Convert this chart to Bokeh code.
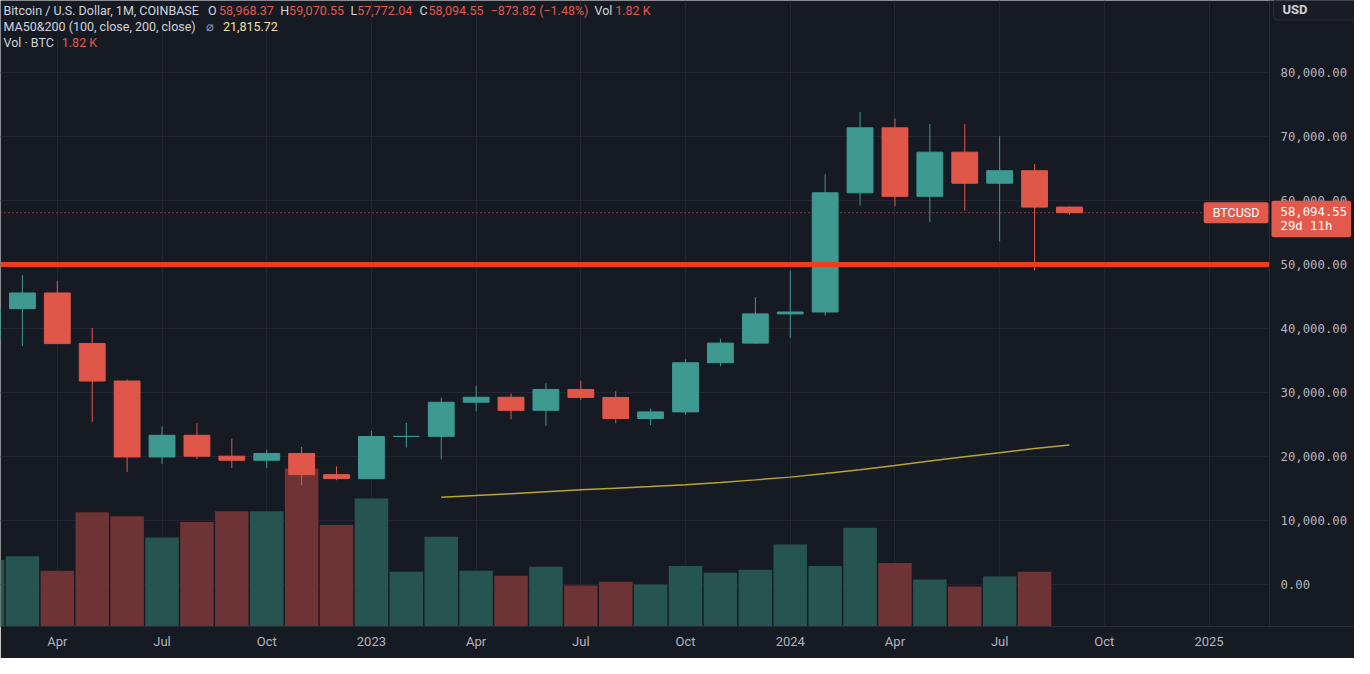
from bokeh.plotting import figure
from bokeh.models import (Range1d, FixedTicker, NumeralTickFormatter, Label, Span,
                          BoxAnnotation, ColumnDataSource)
from bokeh.embed import file_html
from bokeh.resources import INLINE

# ---------------- data ----------------
months = ["2022-02", "2022-03", "2022-04", "2022-05", "2022-06", "2022-07", "2022-08",
          "2022-09", "2022-10", "2022-11", "2022-12", "2023-01", "2023-02", "2023-03",
          "2023-04", "2023-05", "2023-06", "2023-07", "2023-08", "2023-09", "2023-10",
          "2023-11", "2023-12", "2024-01", "2024-02", "2024-03", "2024-04", "2024-05",
          "2024-06", "2024-07", "2024-08", "2024-09"]
opens = [38466, 43100, 45550, 37640, 31790, 19930, 23320, 20050, 19420, 20480, 17170,
         16540, 23130, 23150, 28480, 29260, 27220, 30480, 29230, 25940, 26970, 34650,
         37720, 42280, 42580, 61200, 71350, 60650, 67550, 62700, 64650, 58968.37]
highs = [45850, 48350, 47450, 40100, 32050, 24700, 25200, 22780, 21050, 21500, 18450,
         24000, 25250, 29180, 31050, 29850, 31430, 31850, 30200, 27480, 35200, 38400,
         44900, 49050, 64100, 73850, 72800, 71950, 71950, 70050, 65700, 59070.55]
lows = [34322, 37250, 37600, 25400, 17600, 18850, 19600, 18200, 18200, 15500, 16300,
        16500, 21400, 19580, 27050, 25820, 24800, 28880, 25200, 24900, 26560, 34100,
        37600, 38550, 42000, 59200, 59100, 56600, 58450, 53600, 49100, 57772.04]
closes = [43100, 45550, 37640, 31790, 19930, 23320, 20050, 19420, 20480, 17170, 16540,
          23130, 23150, 28480, 29260, 27220, 30480, 29230, 25940, 26970, 34650, 37720,
          42280, 42580, 61200, 71350, 60650, 67550, 62700, 64650, 58968.37, 58094.55]
volumes = [252000, 266000, 211000, 433000, 418000, 337000, 396000, 437000, 437000,
           599000, 385000, 485000, 207000, 340000, 211000, 192000, 226000, 155000,
           170000, 159000, 229000, 204000, 215000, 311000, 229000, 374000, 241000,
           178000, 152000, 189000, 207000, 1820]

ma_months = ["2023-03", "2023-04", "2023-05", "2023-06", "2023-07", "2023-08", "2023-09",
             "2023-10", "2023-11", "2023-12", "2024-01", "2024-02", "2024-03", "2024-04",
             "2024-05", "2024-06", "2024-07", "2024-08", "2024-09"]
ma_values = [13620, 13900, 14180, 14480, 14800, 15050, 15300, 15600, 15950, 16350,
             16780, 17350, 17950, 18600, 19300, 19950, 20600, 21250, 21815.72]

tick_months = ["2022-04", "2022-07", "2022-10", "2023-01", "2023-04", "2023-07",
               "2023-10", "2024-01", "2024-04", "2024-07", "2024-10", "2025-01"]
tick_labels = ["Apr", "Jul", "Oct", "2023", "Apr", "Jul", "Oct", "2024", "Apr", "Jul",
               "Oct", "2025"]
price_ticks = [0, 10000, 20000, 30000, 40000, 50000, 60000, 70000, 80000]
support_level = 50000
time_left = "29d 11h"
currency = "USD"
symbol = "BTCUSD"


def month_index(m):
    y, mo = m.split("-")
    return (int(y) - 2022) * 12 + int(mo) - 1


# ---------------- style ----------------
BG = "#161a23"
GRID = "#232631"
SEP = "#2a2e39"
UP = "#3e9a90"
DOWN = "#e0574a"
VUP = "#265450"
VDOWN = "#6e3335"
TXT = "#d1d4dc"
AXT = "#b2b5be"
REDTXT = "#e5584b"
YEL = "#f2e3a0"
TAG = "#e25a4c"
FONT = "Roboto"
MONO = "DejaVu Sans Mono"
MONO_SIZE = "12.3px"

X_START, X_END = 1.372, 40.167      # visible time window (month index)
SCALE_EDGE = 37.731                 # where the price scale column begins

xs = [month_index(m) for m in months]
is_up = [c >= o for o, c in zip(opens, closes)]
src = ColumnDataSource(dict(
    x=xs, open=opens, high=highs, low=lows, close=closes,
    top=[max(o, c) for o, c in zip(opens, closes)],
    bottom=[min(o, c) for o, c in zip(opens, closes)],
    color=[UP if u else DOWN for u in is_up],
    vcolor=[VUP if u else VDOWN for u in is_up],
    volume=volumes,
))

p = figure(width=1354, height=658, output_backend="svg", toolbar_location=None,
           x_range=Range1d(X_START, X_END), y_range=Range1d(-6558, 91246),
           y_axis_location="right",
           min_border_left=0, min_border_top=0, min_border_right=0, min_border_bottom=32,
           background_fill_color=BG, border_fill_color=BG, outline_line_color=None)
p.extra_y_ranges = {"vol": Range1d(0, 2371700)}

tick_x = [month_index(m) for m in tick_months]

p.xgrid.ticker = FixedTicker(ticks=tick_x)
p.ygrid.ticker = FixedTicker(ticks=price_ticks)
p.grid.grid_line_color = GRID
p.grid.grid_line_width = 1

ya = p.yaxis[0]
ya.ticker = FixedTicker(ticks=price_ticks)
ya.formatter = NumeralTickFormatter(format="0,0.00")
ya.major_label_text_font = MONO
ya.major_label_text_font_size = MONO_SIZE
ya.major_label_text_color = AXT
ya.axis_line_color = None
ya.major_tick_line_color = None
ya.minor_tick_line_color = None
ya.major_tick_out = 0
ya.minor_tick_out = 0
ya.major_label_standoff = -74

xa = p.xaxis[0]
xa.ticker = FixedTicker(ticks=tick_x)
xa.major_label_overrides = {t: l for t, l in zip(tick_x, tick_labels)}
xa.major_label_text_font = FONT
xa.major_label_text_font_size = "13px"
xa.major_label_text_color = AXT
xa.axis_line_color = SEP
xa.major_tick_line_color = None
xa.minor_tick_line_color = None
xa.major_tick_out = 0
xa.minor_tick_out = 0
xa.major_label_standoff = 7

# current-price dotted line (beneath candles)
p.add_layout(Span(location=closes[-1], dimension="width", line_color=DOWN,
                  line_dash="1 3", line_width=1, level="underlay"))

# volume
p.vbar(x="x", width=0.96, top="volume", bottom=0, y_range_name="vol",
       fill_color="vcolor", line_color=None, source=src)
# candles
p.segment(x0="x", y0="low", x1="x", y1="high", line_color="color", line_width=1, source=src)
p.vbar(x="x", width=0.74, top="top", bottom="bottom", fill_color="color",
       line_color="color", line_width=1, source=src)
# moving average
p.line([month_index(m) for m in ma_months], ma_values, line_color="#b9a533", line_width=1.5)

# support line
p.add_layout(Span(location=support_level, dimension="width", line_color="#f23b1d",
                  line_width=5, level="glyph"))

# price-scale column background + separator
p.add_layout(BoxAnnotation(left=SCALE_EDGE, fill_color=BG, fill_alpha=1.0,
                           line_color=None, level="glyph"))
p.add_layout(Span(location=SCALE_EDGE, dimension="height", line_color=SEP,
                  line_width=1, level="glyph"))

# ---------------- header legend ----------------
o, h, l, c = opens[-1], highs[-1], lows[-1], closes[-1]
chg = c - o
pct = chg / o * 100


def fmt(v):
    return f"{v:,.2f}".replace("-", "\u2212")


vol_txt = f"{volumes[-1] / 1000:.2f} K"

line1 = [("Bitcoin / U.S. Dollar, 1M, COINBASE", 3, TXT), ("O", 207.5, TXT),
         (fmt(o), 218.4, REDTXT), ("H", 279.7, TXT), (fmt(h), 288.6, REDTXT),
         ("L", 349.9, TXT), (fmt(l), 356.8, REDTXT), ("C", 419, TXT), (fmt(c), 428, REDTXT),
         (f"{fmt(chg)} ({fmt(pct)}%)", 490, REDTXT), ("Vol", 594, TXT), (vol_txt, 614.7, REDTXT)]
line2 = [("MA50&200 (100, close, 200, close)", 3, TXT), ("\u2300", 205.6, "#9598a1"),
         (fmt(ma_values[-1]), 222.4, YEL)]
line3 = [("Vol \u00b7 BTC", 3, TXT), (vol_txt, 61.3, REDTXT)]

for items, ys in ((line1, 616), (line2, 600), (line3, 584)):
    for t, xpos, col in items:
        p.add_layout(Label(x=xpos, y=ys, x_units="screen", y_units="screen", text=t,
                           text_font=FONT, text_font_size="12.5px", text_color=col,
                           text_baseline="middle", text_align="left"))

# symbol tag at the end of the price line
p.add_layout(Label(x=SCALE_EDGE, x_offset=-1, y=c, x_units="data", y_units="data",
                   text=symbol, text_font=FONT, text_font_size="12.5px",
                   text_color="#ffffff", text_baseline="middle", text_align="right",
                   background_fill_color=TAG,
                   padding=dict(left=9, right=9, top=3, bottom=3), border_radius=2))
# price tag on the price scale
p.add_layout(Label(x=SCALE_EDGE, x_offset=2, y=c, y_offset=12, x_units="data", y_units="data",
                   text=f"{fmt(c)}\n{time_left}", text_line_height=1.04,
                   text_font=MONO, text_font_size=MONO_SIZE, text_color="#ffffff",
                   text_baseline="top", text_align="left",
                   background_fill_color=TAG,
                   padding=dict(left=9, right=4, top=4, bottom=4), border_radius=2))
# currency box
p.add_layout(Label(x=SCALE_EDGE, x_offset=4, y=617, x_units="data", y_units="screen",
                   text=currency, text_font=FONT, text_font_size="13px", text_color=TXT,
                   text_font_style="bold", text_baseline="middle", text_align="left",
                   background_fill_color="#191c26", border_line_color=SEP,
                   padding=dict(left=9, right=60, top=3, bottom=3), border_radius=4))

open("out.html", "w").write(file_html(p, INLINE))
